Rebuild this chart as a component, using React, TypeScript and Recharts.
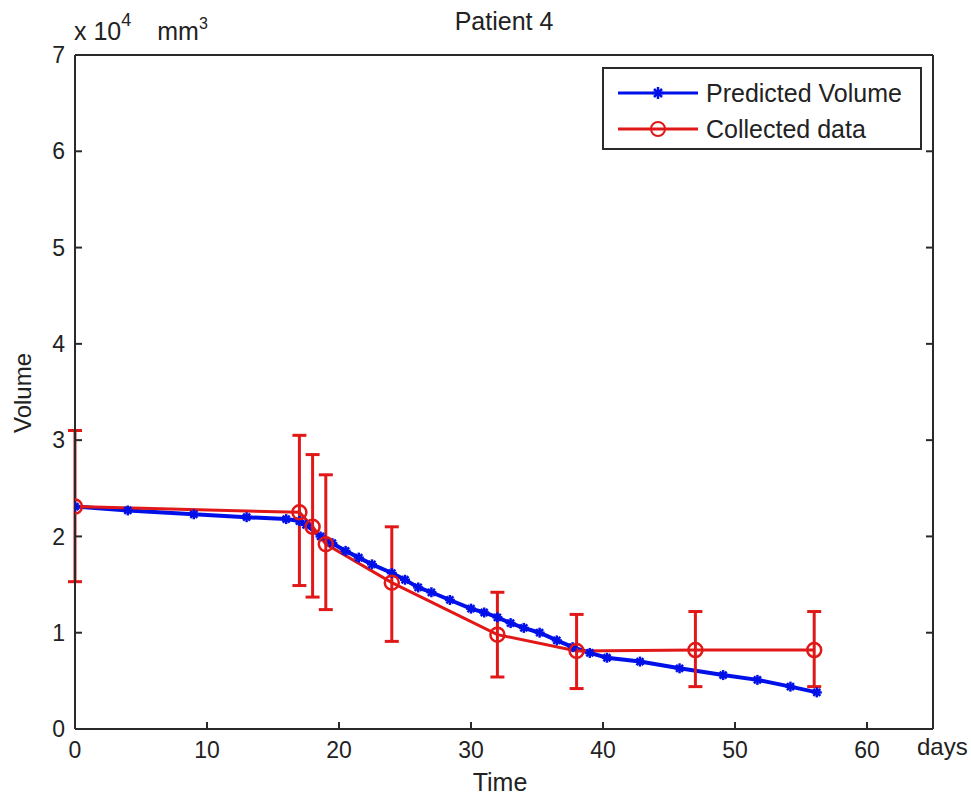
import React from 'react';
import { ErrorBar, Legend, Line, LineChart, XAxis, YAxis } from 'recharts';

// volumes are in units of 10^4 mm^3
const predictedDays = [0, 4, 9, 13, 16, 17, 17.5, 18.6, 19.5, 20.5, 21.5, 22.5, 24, 25, 26, 27, 28.4, 30, 31, 32, 33, 34, 35.2, 36.5, 37.7, 39, 40.3, 42.8, 45.8, 49.1, 51.7, 54.2, 56.2];
const predictedVolume = [2.31, 2.27, 2.23, 2.2, 2.18, 2.16, 2.12, 2.0, 1.93, 1.85, 1.78, 1.71, 1.62, 1.55, 1.47, 1.42, 1.34, 1.25, 1.21, 1.16, 1.1, 1.05, 1.0, 0.92, 0.85, 0.79, 0.74, 0.7, 0.63, 0.56, 0.51, 0.44, 0.38];

const collectedDays = [0, 17, 18, 19, 24, 32, 38, 47, 56];
const collectedVolume = [2.31, 2.25, 2.1, 1.92, 1.52, 0.98, 0.81, 0.82, 0.82];
const collectedLow = [1.53, 1.49, 1.37, 1.24, 0.91, 0.54, 0.42, 0.44, 0.44];
const collectedHigh = [3.1, 3.05, 2.85, 2.64, 2.1, 1.42, 1.19, 1.22, 1.22];

const xTicks = [0, 10, 20, 30, 40, 50, 60];
const yTicks = [0, 1, 2, 3, 4, 5, 6, 7];

const BLUE = '#0010e8';
const RED = '#e01818';
const AXIS = '#2a2a2a';
const FONT = '"Liberation Sans", Arial, sans-serif';

const predicted = predictedDays.map((d, i) => ({ day: d, volume: predictedVolume[i] }));
const collected = collectedDays.map((d, i) => ({
  day: d,
  volume: collectedVolume[i],
  err: [collectedVolume[i] - collectedLow[i], collectedHigh[i] - collectedVolume[i]],
}));

function StarDot(props: any) {
  const { cx, cy, index } = props;
  if (cx == null || cy == null) return <g key={`s-${index}`} />;
  const r = 5;
  const d = 3.5;
  return (
    <g key={`s-${index}`} stroke={BLUE} strokeWidth={2.5}>
      <line x1={cx - r} y1={cy} x2={cx + r} y2={cy} />
      <line x1={cx} y1={cy - r} x2={cx} y2={cy + r} />
      <line x1={cx - d} y1={cy - d} x2={cx + d} y2={cy + d} />
      <line x1={cx - d} y1={cy + d} x2={cx + d} y2={cy - d} />
    </g>
  );
}

// tick marks only, no label
const NoLabel = () => <g />;

function LegendBox() {
  const row = (label: string, color: string, marker: 'star' | 'circle') => (
    <div style={{ display: 'flex', alignItems: 'center', height: 36 }}>
      <svg width={90} height={20}>
        <line x1={6} y1={10} x2={86} y2={10} stroke={color} strokeWidth={3} />
        {marker === 'star' ? (
          <g stroke={color} strokeWidth={2.5}>
            <line x1={40} y1={10} x2={52} y2={10} />
            <line x1={46} y1={4} x2={46} y2={16} />
            <line x1={42} y1={6} x2={50} y2={14} />
            <line x1={42} y1={14} x2={50} y2={6} />
          </g>
        ) : (
          <circle cx={46} cy={10} r={7} fill="none" stroke={color} strokeWidth={2} />
        )}
      </svg>
      <span style={{ marginLeft: 4, fontSize: 25, color: '#222', whiteSpace: 'nowrap' }}>{label}</span>
    </div>
  );
  return (
    <div style={{ border: `2px solid ${AXIS}`, background: '#fff', width: 320, height: 83, padding: '6px 0 0 8px', boxSizing: 'border-box', fontFamily: FONT }}>
      {row('Predicted Volume', BLUE, 'star')}
      {row('Collected data', RED, 'circle')}
    </div>
  );
}

const tickStyle = { fontSize: 23, fill: '#222', fontFamily: FONT };
const tickLineStyle = { stroke: AXIS, strokeWidth: 2 };

export default function App() {
  return (
    <div style={{ position: 'absolute', left: 0, top: 0, width: 971, height: 798, background: '#fff', fontFamily: FONT, color: '#222' }}>
      <LineChart width={971} height={798} margin={{ top: 25, right: 38, bottom: 39, left: 35 }}>
        {/* MATLAB style box: ticks point inwards on all four sides */}
        <XAxis xAxisId="b" type="number" dataKey="day" domain={[0, 65]} ticks={xTicks} allowDataOverflow interval={0}
          height={30} tickSize={-7} tickMargin={20} tick={tickStyle} tickLine={tickLineStyle} stroke={AXIS} strokeWidth={2} />
        <XAxis xAxisId="t" orientation="top" type="number" domain={[0, 65]} ticks={xTicks} allowDataOverflow interval={0}
          height={30} tickSize={-7} tick={<NoLabel />} tickLine={tickLineStyle} stroke={AXIS} strokeWidth={2} />
        <YAxis yAxisId="l" type="number" domain={[0, 7]} ticks={yTicks} allowDataOverflow interval={0}
          width={40} tickSize={-7} tickMargin={17} tick={tickStyle} tickLine={tickLineStyle} stroke={AXIS} strokeWidth={2} />
        <YAxis yAxisId="r" orientation="right" type="number" domain={[0, 7]} ticks={yTicks} allowDataOverflow interval={0} mirror
          width={40} tickSize={7} tick={<NoLabel />} tickLine={tickLineStyle} stroke={AXIS} strokeWidth={2} />
        <Line xAxisId="b" yAxisId="l" data={predicted} dataKey="volume" name="Predicted Volume" type="linear"
          stroke={BLUE} strokeWidth={4} dot={StarDot} activeDot={false} isAnimationActive={false} />
        <Line xAxisId="b" yAxisId="l" data={collected} dataKey="volume" name="Collected data" type="linear"
          stroke={RED} strokeWidth={3}
          dot={{ r: 7, fill: 'none', stroke: RED, strokeWidth: 2.5 }} activeDot={false} isAnimationActive={false}>
          <ErrorBar dataKey="err" direction="y" width={7} stroke={RED} strokeWidth={3} isAnimationActive={false} />
        </Line>
        <Legend layout="vertical" align="center" verticalAlign="middle" content={<LegendBox />}
          wrapperStyle={{ position: 'absolute', left: 602, top: 67, width: 320, height: 83 }} />
      </LineChart>

      <div style={{ position: 'absolute', left: 0, width: 1008, top: 7, textAlign: 'center', fontSize: 25 }}>Patient 4</div>
      <div style={{ position: 'absolute', left: 0, width: 1000, top: 768, textAlign: 'center', fontSize: 25 }}>Time</div>
      <div style={{ position: 'absolute', left: 917, top: 733, fontSize: 24 }}>days</div>
      <div style={{ position: 'absolute', left: 23, top: 393, transform: 'translate(-50%, -50%) rotate(-90deg)', fontSize: 24 }}>Volume</div>
      <div style={{ position: 'absolute', left: 74, top: 17, fontSize: 25, whiteSpace: 'nowrap' }}>
        x 10<sup style={{ fontSize: 18, verticalAlign: 'top', position: 'relative', top: -7 }}>4</sup>
        <span style={{ marginLeft: 26 }}>mm<sup style={{ fontSize: 16, verticalAlign: 'top', position: 'relative', top: -2 }}>3</sup></span>
      </div>
    </div>
  );
}
